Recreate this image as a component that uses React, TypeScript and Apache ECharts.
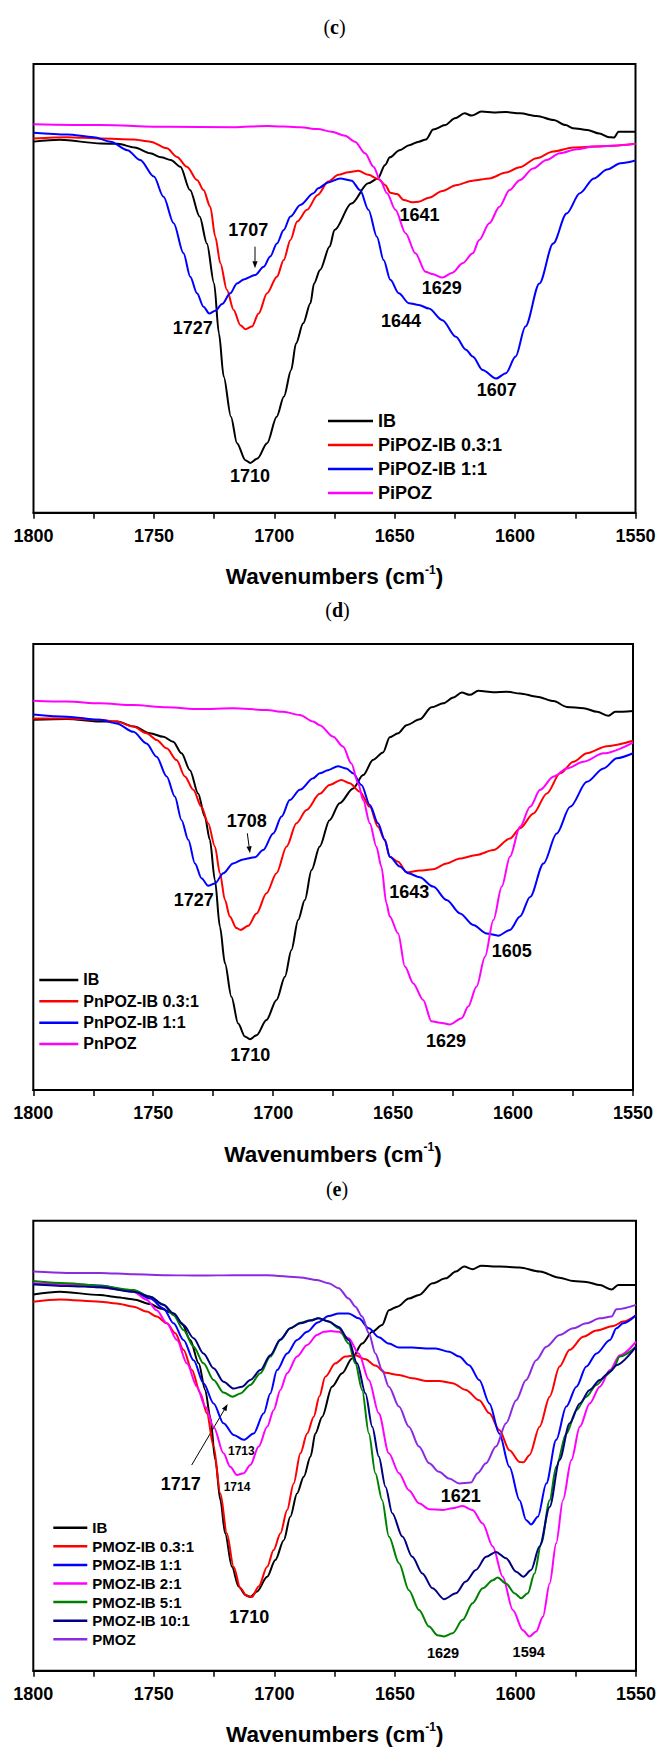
import { useEffect, useRef } from "react";
import * as echarts from "echarts";

// ---------- Panel (c) data: [wavenumber cm-1, transmittance a.u.] ----------
const cIB: [number, number][] = [
  [1800, 82.7], [1789, 83.1], [1772, 82.3], [1765, 82.2], [1758, 81.4], [1751.5, 80.1], [1747, 79.2],
  [1743, 78.6], [1739, 77.1], [1735, 71.9], [1731, 66.0], [1728, 60.0], [1725, 51.1], [1723, 40.0],
  [1721, 30.3], [1718, 21.4], [1715.5, 15.5], [1712, 11.7], [1710, 11.1], [1707, 12.1], [1703, 15.5],
  [1699, 21.4], [1696, 25.9], [1693, 31.8], [1691, 37.7], [1688, 42.2], [1685, 46.7], [1683.5, 51.1],
  [1681, 54.1], [1677, 59.3], [1675, 63.0], [1668, 68.9], [1661, 73.4], [1657, 74.5], [1654, 77.5],
  [1652, 79.2], [1648, 80.8], [1644, 81.9], [1640, 82.7], [1637, 83.2], [1634, 85.4], [1629, 86.4],
  [1625, 87.9], [1621, 89.0], [1618, 88.5], [1614, 89.4], [1609, 89.2], [1604, 89.3], [1598, 89.0],
  [1591, 88.4], [1584, 87.5], [1579, 86.4], [1576, 85.7], [1570, 85.3], [1565, 84.5], [1561, 83.7],
  [1559, 83.6], [1557, 84.9], [1550, 84.9],
];
const cPiPOZ03: [number, number][] = [
  [1800, 83.4], [1786, 83.7], [1772, 83.4], [1758.5, 83.2], [1751.5, 82.7], [1744.6, 81.2], [1740.4, 79.3],
  [1736.3, 77.1], [1732, 74.1], [1729.4, 71.9], [1726.6, 68.2], [1724.5, 61.5], [1722.4, 55.6],
  [1719.7, 49.7], [1716.9, 45.2], [1714.1, 41.8], [1712, 40.9], [1709.3, 41.5], [1706.5, 44.4],
  [1703, 48.9], [1698.9, 52.6], [1696.1, 56.3], [1693.3, 60.8], [1690.5, 64.9], [1686.4, 67.5],
  [1682, 70.8], [1677.6, 73.8], [1673.4, 75.3], [1669.2, 75.9], [1665.1, 76.2], [1660.9, 75.3],
  [1656.7, 74.3], [1653.9, 73.0], [1651.8, 71.3], [1649, 71.0], [1646.2, 69.7], [1642.7, 69.2],
  [1640, 69.3], [1635.8, 70.2], [1630.2, 71.7], [1624.6, 73.0], [1617.6, 74.0], [1610.7, 74.5],
  [1603.8, 75.8], [1598.1, 77.0], [1591.1, 79.0], [1584.2, 80.5], [1575.8, 81.4], [1566, 81.6], [1550, 82.2],
];
const cPiPOZ11: [number, number][] = [
  [1800, 84.7], [1786, 84.3], [1775, 83.7], [1768, 82.7], [1761, 80.8], [1755.7, 78.6], [1750, 74.9],
  [1746, 70.4], [1741.8, 64.5], [1737.7, 57.8], [1734.9, 52.6], [1732.1, 48.9], [1729.4, 45.9],
  [1727, 44.4], [1724.5, 45.0], [1721.7, 46.5], [1718.3, 48.9], [1715.5, 51.1], [1712.7, 52.0],
  [1707.9, 53.0], [1704.4, 54.8], [1701.7, 57.1], [1698.9, 60.0], [1696.1, 63.0], [1693.3, 66.0],
  [1689.2, 68.6], [1683.7, 71.2], [1681.8, 72.3], [1677.6, 73.6], [1672.7, 74.5], [1667.9, 74.0],
  [1664.4, 71.9], [1660.9, 67.5], [1657.4, 61.5], [1654.6, 56.3], [1651.8, 51.9], [1648.3, 48.9],
  [1644.1, 46.7], [1640, 46.3], [1635.8, 45.5], [1630.2, 42.9], [1624.6, 39.2], [1620.4, 36.3],
  [1617.6, 34.8], [1613.5, 31.8], [1607.9, 29.9], [1603.8, 31.1], [1599.8, 34.8], [1595.7, 41.5],
  [1589.9, 51.1], [1584.2, 60.0], [1578.6, 66.7], [1573.1, 71.2], [1567.3, 74.5], [1561.8, 76.5],
  [1556.2, 77.9], [1550, 78.5],
];
const cPiPOZ: [number, number][] = [
  [1800, 86.6], [1772.3, 86.4], [1744.6, 86.0], [1716.9, 85.9], [1703, 86.2], [1689.2, 85.9],
  [1682, 85.5], [1676.2, 84.9], [1670.6, 84.0], [1666.5, 82.7], [1662.3, 80.1], [1658.8, 77.1],
  [1656, 74.1], [1653.2, 71.2], [1649.7, 67.5], [1645.5, 62.3], [1641.4, 57.8], [1637.2, 53.7],
  [1634.4, 53.2], [1630.2, 52.4], [1626, 53.5], [1621.8, 55.6], [1617.6, 57.8], [1614.9, 60.8],
  [1610.7, 64.5], [1606.5, 68.2], [1602.3, 71.9], [1598.1, 74.1], [1592.5, 76.7], [1587, 78.6],
  [1581.4, 80.1], [1574.4, 81.0], [1567.4, 81.6], [1559.1, 81.8], [1550, 82.2],
];

// ---------- Panel (d) data ----------
const dIB: [number, number][] = [
  [1800, 83.0], [1786, 83.2], [1772, 82.6], [1765, 82.6], [1758, 81.5], [1751.4, 80.0], [1745.8, 79.2],
  [1741.7, 78.1], [1738.2, 75.5], [1734.7, 71.7], [1731.3, 66.5], [1728.5, 61.3], [1726.4, 56.1],
  [1724.3, 47.1], [1722.2, 36.6], [1720.1, 28.4], [1717.4, 20.9], [1714.6, 14.9], [1711.8, 12.0],
  [1709.7, 11.4], [1706.9, 12.3], [1702.8, 15.7], [1698.6, 20.2], [1695.1, 25.4], [1692.4, 31.4],
  [1689.6, 38.1], [1686.8, 42.6], [1684, 49.3], [1680.6, 54.6], [1676.5, 60.5], [1672.3, 64.3],
  [1666.7, 67.6], [1662.5, 70.6], [1658.4, 74.0], [1654.2, 75.7], [1651.4, 79.1], [1647.9, 80.0],
  [1644.4, 81.8], [1638.9, 83.1], [1634, 85.8], [1629.1, 86.7], [1624.9, 88.0], [1621.4, 89.1],
  [1618, 88.6], [1614.5, 89.5], [1608.2, 89.2], [1602.6, 89.3], [1597.1, 88.9], [1590.1, 88.2],
  [1583.1, 87.2], [1577.6, 85.9], [1570.6, 85.6], [1565, 84.8], [1560.2, 83.9], [1557.4, 84.8], [1550, 85.0],
];
const dPnPOZ03: [number, number][] = [
  [1800, 83.3], [1786, 83.3], [1772.2, 83.0], [1765.3, 82.6], [1758.3, 81.5], [1752.8, 80.0],
  [1748.6, 78.5], [1744.4, 76.6], [1740.3, 74.0], [1736.8, 70.3], [1733.3, 67.3], [1729.9, 63.5],
  [1727.1, 59.8], [1724.3, 54.6], [1722.2, 48.6], [1720.1, 42.6], [1718.1, 38.9], [1715.3, 36.3],
  [1713.6, 35.9], [1710.4, 36.8], [1706.9, 39.6], [1702.8, 44.1], [1698.6, 48.6], [1694.4, 54.6],
  [1690.3, 59.8], [1686.1, 62.8], [1680.6, 66.4], [1676.5, 68.4], [1671.6, 69.5], [1668.1, 68.8],
  [1663.9, 66.9], [1659.7, 63.5], [1656.3, 59.0], [1653.5, 56.1], [1651.4, 52.3], [1647.9, 51.2],
  [1644.4, 48.8], [1638.9, 49.2], [1633.3, 49.5], [1627.7, 50.8], [1622.1, 51.9], [1615.2, 52.7],
  [1608.2, 53.8], [1601.3, 56.4], [1597.1, 58.7], [1591.5, 62.0], [1585.9, 66.5], [1580.4, 71.0],
  [1574.8, 73.6], [1569.2, 75.5], [1560.9, 77.1], [1550, 78.3],
];
const dPnPOZ11: [number, number][] = [
  [1800, 84.2], [1786, 83.7], [1772.2, 83.0], [1765.3, 82.2], [1758.3, 80.3], [1752.8, 77.7],
  [1748.6, 74.7], [1744.4, 70.3], [1741, 65.8], [1738.2, 60.5], [1735.4, 56.1], [1732.6, 50.8],
  [1729.9, 47.5], [1727.1, 45.8], [1724.3, 46.3], [1720.8, 48.6], [1716.7, 50.8], [1712.5, 51.7],
  [1707.6, 52.2], [1704.2, 53.8], [1700, 57.5], [1696.5, 61.3], [1693.1, 65.0], [1688.9, 67.3],
  [1683.3, 69.9], [1680.6, 71.0], [1677.2, 71.7], [1673, 72.6], [1669.5, 72.1], [1666.7, 71.0],
  [1663.2, 68.4], [1659.7, 63.9], [1656.3, 59.8], [1653.5, 56.1], [1651.4, 52.3], [1647.2, 50.1],
  [1643.7, 48.6], [1638.9, 47.7], [1633.3, 45.6], [1627.7, 42.6], [1622.1, 39.6], [1616.6, 37.0],
  [1611, 35.1], [1606.1, 34.6], [1601.3, 35.9], [1597.1, 38.9], [1592.9, 43.3], [1587.3, 50.8],
  [1581.8, 57.5], [1576.2, 63.5], [1569.2, 69.1], [1562.3, 72.1], [1556.7, 74.4], [1550, 75.5],
];
const dPnPOZ: [number, number][] = [
  [1800, 87.3], [1786, 87.1], [1772.2, 86.7], [1758.3, 86.3], [1744.4, 85.8], [1730.6, 85.4],
  [1716.7, 85.6], [1702.8, 85.2], [1695.8, 84.8], [1688.9, 84.1], [1683.3, 82.6], [1680.6, 81.8],
  [1675, 79.2], [1670.9, 77.0], [1667.4, 73.2], [1664.6, 68.8], [1662.5, 65.0], [1659.7, 59.8],
  [1657, 54.6], [1654.9, 50.1], [1652.8, 41.9], [1651.4, 38.9], [1647.9, 35.1], [1645.1, 27.7],
  [1641.6, 23.9], [1637.5, 20.2], [1634, 15.4], [1630.5, 15.1], [1626.3, 14.7], [1621.4, 16.1],
  [1618.7, 18.7], [1615.2, 23.2], [1611.7, 29.9], [1608.2, 38.1], [1604.7, 45.6], [1601.3, 52.3],
  [1597.1, 59.0], [1592.9, 63.5], [1588.7, 67.3], [1583.1, 70.3], [1577.6, 72.1], [1570.6, 73.6],
  [1562.3, 75.5], [1550, 77.9],
];

// ---------- Panel (e) data ----------
const eIB: [number, number][] = [
  [1800, 83.6], [1789, 84.2], [1772.3, 83.5], [1765.4, 83.0], [1758.4, 82.5], [1751.5, 81.5],
  [1747.4, 80.5], [1741.8, 79.4], [1738.4, 77.2], [1734.9, 73.5], [1731.4, 68.3], [1728.7, 62.4],
  [1726.6, 56.4], [1724.5, 46.8], [1722.4, 37.9], [1720.4, 30.5], [1717.6, 23.1], [1714.8, 18.7],
  [1712, 16.8], [1710, 16.4], [1707.2, 17.6], [1703, 20.9], [1699.6, 24.6], [1696.1, 29.0],
  [1693.4, 34.2], [1690.6, 39.4], [1687.8, 43.1], [1685, 47.6], [1683, 52.7], [1680.2, 56.4],
  [1676.1, 63.1], [1671.9, 66.1], [1667.8, 69.4], [1663.6, 72.7], [1659.4, 75.3], [1655.3, 76.8],
  [1652.5, 80.1], [1649, 80.9], [1644.2, 82.7], [1640, 83.5], [1634.4, 86.1], [1628.9, 87.2],
  [1624.7, 88.7], [1621.3, 89.8], [1617.8, 89.2], [1614.3, 90.0], [1606.7, 89.8], [1598.3, 89.6],
  [1590, 88.7], [1581.7, 87.3], [1576.1, 86.6], [1570.6, 86.4], [1565, 85.7], [1560.1, 84.7],
  [1557.4, 85.7], [1550, 85.7],
];
const ePMOZ03: [number, number][] = [
  [1800, 82.0], [1789, 82.5], [1772.3, 82.0], [1765.4, 81.6], [1758.4, 80.9], [1752.9, 79.8],
  [1748.8, 78.7], [1744.6, 77.2], [1741.1, 75.0], [1737.7, 71.3], [1734.2, 66.8], [1730.7, 61.6],
  [1728, 57.2], [1725.2, 49.8], [1722.4, 39.4], [1719.7, 30.5], [1716.9, 23.1], [1714.1, 18.3],
  [1711.4, 16.6], [1709.3, 16.4], [1706.5, 18.7], [1703, 23.1], [1700.3, 26.8], [1697.5, 30.5],
  [1694.7, 35.7], [1692, 41.6], [1689.2, 48.3], [1686.4, 52.7], [1683.7, 56.4], [1681.3, 61.0],
  [1678.9, 65.3], [1674.7, 68.3], [1670.6, 69.8], [1666.4, 70.1], [1662.2, 69.2], [1658.1, 67.8],
  [1653.9, 66.2], [1648.3, 65.7], [1642.8, 65.0], [1637.2, 64.4], [1631.7, 64.4], [1626.1, 63.9],
  [1620.6, 62.4], [1615, 60.1], [1610.8, 57.2], [1606.7, 53.5], [1602.5, 49.0], [1598.3, 46.4],
  [1596.7, 46.3], [1594.2, 47.9], [1590, 54.2], [1585.8, 60.9], [1581.7, 67.6], [1577.5, 71.3],
  [1571.9, 74.2], [1566.4, 75.6], [1559.4, 76.6], [1555.3, 77.6], [1550, 79.0],
];
const ePMOZ11: [number, number][] = [
  [1800, 85.9], [1786, 85.9], [1772.3, 85.6], [1758.4, 84.2], [1751.5, 82.7], [1746, 80.5],
  [1741.8, 77.2], [1737.7, 73.5], [1733.5, 69.0], [1729.4, 63.9], [1725.2, 59.4], [1721.1, 55.0],
  [1716.9, 52.4], [1712.7, 51.3], [1708.6, 52.7], [1704.4, 57.2], [1701.7, 61.6], [1698.9, 66.8],
  [1694.7, 70.5], [1690.6, 73.5], [1686.4, 75.3], [1682, 77.4], [1677.5, 78.8], [1673.3, 79.4],
  [1669.2, 79.4], [1665, 78.3], [1660.8, 76.1], [1656.7, 74.1], [1652.5, 72.7], [1648.3, 71.8],
  [1642.8, 71.8], [1637.2, 71.6], [1633.1, 71.6], [1627.5, 70.9], [1623.3, 69.8], [1619.2, 67.9],
  [1615, 64.6], [1610.8, 59.4], [1606.7, 52.7], [1602.5, 45.3], [1598.3, 37.9], [1595.6, 33.5],
  [1593.5, 32.5], [1590.7, 34.2], [1587.2, 41.6], [1583.1, 51.3], [1578.9, 58.7], [1574.7, 63.1],
  [1570.6, 67.6], [1566.4, 70.5], [1560.8, 73.5], [1558.1, 76.1], [1555.3, 77.2], [1550, 79.0],
];
const ePMOZ21: [number, number][] = [
  [1800, 86.1], [1786, 85.9], [1772.3, 85.2], [1764, 84.7], [1758.4, 84.2], [1752.9, 82.4],
  [1748.8, 80.1], [1744.6, 77.2], [1740.4, 73.5], [1736.3, 68.3], [1732.1, 63.1], [1728.7, 58.7],
  [1725.2, 54.2], [1721.1, 48.3], [1718.3, 45.3], [1715.5, 43.5], [1712.7, 43.9], [1710, 45.7],
  [1706.5, 49.8], [1703, 54.2], [1700.3, 57.9], [1697.5, 62.4], [1694.7, 66.1], [1690.6, 69.8],
  [1686.4, 72.4], [1682.3, 74.6], [1679.5, 75.3], [1676.7, 75.5], [1673.3, 75.3], [1669.2, 73.9],
  [1665, 70.5], [1660.8, 64.6], [1656.7, 57.2], [1652.5, 48.3], [1648.3, 43.9], [1644.2, 40.1],
  [1640, 37.2], [1635.8, 35.9], [1630.3, 35.7], [1626.1, 36.1], [1621.9, 36.6], [1617.8, 35.7],
  [1613.6, 32.7], [1609.4, 27.6], [1605.3, 20.9], [1601.1, 13.5], [1596.9, 9.0], [1594.2, 7.6],
  [1591.4, 8.7], [1588.6, 12.0], [1585.8, 19.4], [1583.1, 28.3], [1580.3, 37.9], [1576.8, 46.8],
  [1573.3, 54.2], [1569.2, 59.4], [1565, 63.1], [1560.8, 66.8], [1556.7, 70.1], [1550, 73.1],
];
const ePMOZ51: [number, number][] = [
  [1800, 86.6], [1786, 86.1], [1772.3, 85.5], [1758.4, 84.6], [1751.5, 83.1], [1746, 81.3],
  [1741.8, 79.0], [1737.7, 75.7], [1733.5, 72.0], [1729.4, 68.3], [1725.2, 64.6], [1721.1, 61.8],
  [1717.3, 60.9], [1714.1, 61.6], [1710, 63.5], [1705.8, 66.1], [1701.7, 69.8], [1697.5, 73.5],
  [1693.4, 76.1], [1689.2, 77.3], [1685, 77.9], [1681.7, 78.3], [1677.5, 77.6], [1673.3, 76.1],
  [1669.2, 72.7], [1666.4, 68.3], [1663.6, 62.4], [1660.8, 52.7], [1658.1, 43.9], [1655.3, 37.9],
  [1652.5, 29.8], [1648.3, 23.9], [1644.2, 17.9], [1640, 13.5], [1635.8, 9.8], [1632.4, 7.9],
  [1629.6, 7.6], [1626.1, 8.3], [1621.9, 11.3], [1617.8, 15.0], [1613.6, 18.3], [1609.4, 20.1],
  [1607.4, 20.7], [1603.9, 19.4], [1600.4, 17.2], [1597.6, 16.1], [1594.9, 17.2], [1592.1, 21.6],
  [1589.3, 28.3], [1585.8, 37.9], [1583.1, 45.3], [1578.9, 52.7], [1574.7, 57.9], [1570.6, 60.9],
  [1566.4, 63.5], [1562.2, 65.7], [1559.4, 67.2], [1556.7, 69.8], [1550, 72.0],
];
const ePMOZ101: [number, number][] = [
  [1800, 85.9], [1786, 85.5], [1772.3, 85.2], [1758.4, 84.2], [1751.5, 83.1], [1746, 81.3],
  [1741.8, 79.4], [1737.7, 76.8], [1733.5, 73.9], [1729.4, 70.5], [1725.2, 67.2], [1721.1, 64.2],
  [1716.9, 62.7], [1713.4, 63.1], [1710, 64.6], [1705.8, 66.8], [1701.7, 70.1], [1697.5, 73.6],
  [1693.4, 76.1], [1689.2, 77.2], [1685, 77.8], [1681.7, 78.3], [1677.5, 77.6], [1673.3, 76.4],
  [1669.2, 73.5], [1665.7, 68.3], [1662.2, 61.6], [1659.4, 54.2], [1656.7, 47.6], [1653.9, 40.9],
  [1651.1, 35.0], [1646.9, 29.8], [1642.8, 25.3], [1638.6, 21.6], [1634.4, 18.3], [1629.6, 15.9],
  [1624.7, 17.2], [1620.6, 19.8], [1616.4, 22.4], [1612.2, 25.3], [1608.1, 26.4], [1603.9, 25.0],
  [1599.7, 22.0], [1596.7, 20.9], [1593.5, 22.4], [1590, 27.6], [1585.8, 36.4], [1581.7, 46.8],
  [1577.5, 55.0], [1573.3, 59.4], [1569.2, 62.4], [1565, 64.6], [1560.8, 66.4], [1558.1, 67.9], [1550, 72.0],
];
const ePMOZ: [number, number][] = [
  [1800, 88.7], [1786, 88.4], [1772.3, 88.4], [1758.4, 88.1], [1744.6, 87.9], [1730.7, 87.8],
  [1716.9, 87.9], [1703, 87.9], [1689.2, 87.4], [1682.3, 86.8], [1677.5, 86.1], [1673.3, 85.0],
  [1669.2, 82.7], [1666.4, 80.9], [1663.6, 78.7], [1660.8, 75.0], [1658.1, 70.5], [1655.3, 66.8],
  [1652.5, 63.1], [1648.3, 58.7], [1644.2, 54.2], [1640, 49.8], [1635.8, 46.1], [1631.7, 44.2],
  [1627.5, 42.7], [1623.3, 41.6], [1618.5, 41.8], [1615.7, 43.9], [1612.2, 46.1], [1608.1, 49.8],
  [1603.9, 55.0], [1599.7, 60.1], [1595.6, 64.6], [1591.4, 69.0], [1587.2, 72.0], [1581.7, 74.6],
  [1576.1, 76.1], [1570.6, 77.2], [1565, 78.3], [1560.1, 78.7], [1558.1, 80.3], [1550, 81.3],
];

const X_MIN = 1550;
const X_MAX = 1800;
const X_STEP = 50;

const FONT = "Liberation Sans";
const SERIF = "Liberation Serif";

const COLORS = {
  black: "#000000",
  red: "#ff0000",
  blue: "#0000ff",
  magenta: "#ff00ff",
  green: "#008000",
  navy: "#000080",
  violet: "#8a2be2",
};

type SeriesDef = { name: string; data: [number, number][]; color: string };

const panelC: SeriesDef[] = [
  { name: "IB", data: cIB, color: COLORS.black },
  { name: "PiPOZ-IB 0.3:1", data: cPiPOZ03, color: COLORS.red },
  { name: "PiPOZ-IB 1:1", data: cPiPOZ11, color: COLORS.blue },
  { name: "PiPOZ", data: cPiPOZ, color: COLORS.magenta },
];
const panelD: SeriesDef[] = [
  { name: "IB", data: dIB, color: COLORS.black },
  { name: "PnPOZ-IB 0.3:1", data: dPnPOZ03, color: COLORS.red },
  { name: "PnPOZ-IB 1:1", data: dPnPOZ11, color: COLORS.blue },
  { name: "PnPOZ", data: dPnPOZ, color: COLORS.magenta },
];
const panelE: SeriesDef[] = [
  { name: "IB", data: eIB, color: COLORS.black },
  { name: "PMOZ-IB 0.3:1", data: ePMOZ03, color: COLORS.red },
  { name: "PMOZ-IB 1:1", data: ePMOZ11, color: COLORS.blue },
  { name: "PMOZ-IB 2:1", data: ePMOZ21, color: COLORS.magenta },
  { name: "PMOZ-IB 5:1", data: ePMOZ51, color: COLORS.green },
  { name: "PMOZ-IB 10:1", data: ePMOZ101, color: COLORS.navy },
  { name: "PMOZ", data: ePMOZ, color: COLORS.violet },
];

// layout (pixels)
const GRIDS = [
  { left: 33.5, top: 64, width: 602, height: 448.7 },
  { left: 33.3, top: 644, width: 599.7, height: 446 },
  { left: 33.3, top: 1220.7, width: 602.7, height: 450 },
];

type Ann = { t: string; x: number; y: number; s: number };
const annotations: Ann[] = [
  { t: "1707", x: 248.3, y: 230, s: 18 },
  { t: "1727", x: 192.7, y: 328.3, s: 18 },
  { t: "1710", x: 250, y: 476, s: 18 },
  { t: "1641", x: 419.5, y: 215, s: 18 },
  { t: "1629", x: 441.7, y: 288.3, s: 18 },
  { t: "1644", x: 401, y: 320.7, s: 18 },
  { t: "1607", x: 496.7, y: 390, s: 18 },
  { t: "1708", x: 246.7, y: 821, s: 18 },
  { t: "1727", x: 193.7, y: 900, s: 18 },
  { t: "1710", x: 250.3, y: 1055, s: 18 },
  { t: "1643", x: 409.2, y: 891.7, s: 18 },
  { t: "1605", x: 511.7, y: 950.7, s: 18 },
  { t: "1629", x: 446, y: 1040.7, s: 18 },
  { t: "1713", x: 241.3, y: 1450.7, s: 12 },
  { t: "1714", x: 237, y: 1487.3, s: 12 },
  { t: "1717", x: 180.7, y: 1484, s: 18 },
  { t: "1710", x: 249.2, y: 1617.3, s: 18 },
  { t: "1621", x: 460.8, y: 1496, s: 18 },
  { t: "1629", x: 443, y: 1653.3, s: 14.5 },
  { t: "1594", x: 528.7, y: 1652.3, s: 14.5 },
];

const arrows = [
  { x1: 255, y1: 246.7, x2: 255, y2: 268.3 },
  { x1: 247.3, y1: 833.3, x2: 250, y2: 853.3 },
  { x1: 191.7, y1: 1465, x2: 227.7, y2: 1404 },
];

const panelLabels = [
  { l: "c", x: 334.5, y: 27 },
  { l: "d", x: 337.5, y: 610 },
  { l: "e", x: 337, y: 1189 },
];
const axisTitles = [
  { x: 334.5, y: 576.7 },
  { x: 333, y: 1154 },
  { x: 334.7, y: 1734 },
];

const legendLayout = [
  { left: 328, top: 409, w: 45, lh: 24, fs: 18 },
  { left: 39.3, top: 969.3, w: 39, lh: 21.33, fs: 16 },
  { left: 53.3, top: 1518.4, w: 34, lh: 18.6, fs: 15 },
];

function arrowGraphic(a: { x1: number; y1: number; x2: number; y2: number }) {
  const dx = a.x2 - a.x1;
  const dy = a.y2 - a.y1;
  const len = Math.sqrt(dx * dx + dy * dy);
  const ux = dx / len;
  const uy = dy / len;
  const head = 7;
  const bx = a.x2 - ux * head;
  const by = a.y2 - uy * head;
  const px = -uy * 2.6;
  const py = ux * 2.6;
  return {
    type: "group",
    children: [
      {
        type: "line",
        shape: { x1: a.x1, y1: a.y1, x2: bx, y2: by },
        style: { stroke: "#000", lineWidth: 1 },
      },
      {
        type: "polygon",
        shape: { points: [[a.x2, a.y2], [bx + px, by + py], [bx - px, by - py]] },
        style: { fill: "#000" },
      },
    ],
  };
}

function buildOption() {
  const panels = [panelC, panelD, panelE];
  const series: any[] = [];
  panels.forEach((p, gi) => {
    p.forEach((s) => {
      series.push({
        type: "line",
        name: s.name,
        xAxisIndex: gi,
        yAxisIndex: gi,
        data: s.data,
        showSymbol: false,
        symbol: "none",
        smooth: 0.3,
        smoothMonotone: "x",
        color: s.color,
        lineStyle: { color: s.color, width: 2 },
        emphasis: { disabled: true },
      });
    });
  });

  const xAxis = GRIDS.map((_, gi) => ({
    type: "value",
    gridIndex: gi,
    min: X_MIN,
    max: X_MAX,
    interval: X_STEP,
    inverse: true,
    axisLine: { show: true, lineStyle: { color: "#000", width: 2 } },
    axisTick: { show: true, length: 6, lineStyle: { color: "#000", width: 1.5 } },
    minorTick: { show: true, splitNumber: 2, length: 6, lineStyle: { color: "#000", width: 1.5 } },
    splitLine: { show: false },
    minorSplitLine: { show: false },
    axisLabel: {
      fontSize: 18,
      fontWeight: "bold",
      fontFamily: FONT,
      color: "#000",
      margin: 14,
      showMinLabel: true,
      showMaxLabel: true,
      formatter: (v: number) => String(v),
    },
  }));
  const yAxis = GRIDS.map((_, gi) => ({
    type: "value",
    gridIndex: gi,
    min: 0,
    max: 100,
    show: false,
  }));

  const legend = panels.map((p, gi) => ({
    data: p.map((s) => s.name),
    orient: "vertical",
    left: legendLayout[gi].left,
    top: legendLayout[gi].top,
    padding: 0,
    itemGap: 0,
    itemWidth: legendLayout[gi].w,
    itemHeight: 2.5,
    icon: "rect",
    selectedMode: false,
    textStyle: {
      fontSize: legendLayout[gi].fs,
      fontWeight: "bold",
      fontFamily: FONT,
      color: "#000",
      lineHeight: legendLayout[gi].lh,
    },
  }));

  const graphic: any[] = [];
  annotations.forEach((a) => {
    graphic.push({
      type: "text",
      x: a.x,
      y: a.y,
      silent: true,
      style: {
        text: a.t,
        fontSize: a.s,
        fontWeight: "bold",
        fontFamily: FONT,
        fill: "#000",
        align: "center",
        verticalAlign: "middle",
      },
    });
  });
  arrows.forEach((a) => graphic.push(arrowGraphic(a)));
  panelLabels.forEach((p) => {
    graphic.push({
      type: "text",
      x: p.x,
      y: p.y,
      silent: true,
      style: {
        text: `{n|(}{b|${p.l}}{n|)}`,
        fontSize: 20,
        fontFamily: SERIF,
        fill: "#000",
        align: "center",
        verticalAlign: "middle",
        rich: {
          n: { fontSize: 20, fontFamily: SERIF, fill: "#000", lineHeight: 22 },
          b: { fontSize: 20, fontFamily: SERIF, fontWeight: "bold", fill: "#000", lineHeight: 22 },
        },
      },
    });
  });
  axisTitles.forEach((t) => {
    graphic.push({
      type: "text",
      x: t.x,
      y: t.y,
      silent: true,
      style: {
        text: "{m|Wavenumbers (cm}{s|-1}{m|)}",
        align: "center",
        verticalAlign: "middle",
        rich: {
          m: { fontSize: 22.5, fontWeight: "bold", fontFamily: FONT, fill: "#000", lineHeight: 26 },
          s: { fontSize: 12, fontWeight: "bold", fontFamily: FONT, fill: "#000", lineHeight: 12, verticalAlign: "top" },
        },
      },
    });
  });

  return {
    animation: false,
    backgroundColor: "#ffffff",
    grid: GRIDS.map((g) => ({
      ...g,
      show: true,
      borderColor: "#000",
      borderWidth: 2,
      backgroundColor: "transparent",
      containLabel: false,
    })),
    xAxis,
    yAxis,
    legend,
    series,
    graphic,
  };
}

export default function App() {
  const ref = useRef<HTMLDivElement>(null);
  useEffect(() => {
    document.body.style.margin = "0";
    const chart = echarts.init(ref.current as HTMLDivElement, null, { renderer: "svg" });
    chart.setOption(buildOption() as any);
    return () => chart.dispose();
  }, []);
  return <div ref={ref} style={{ width: 659, height: 1747 }} />;
}
